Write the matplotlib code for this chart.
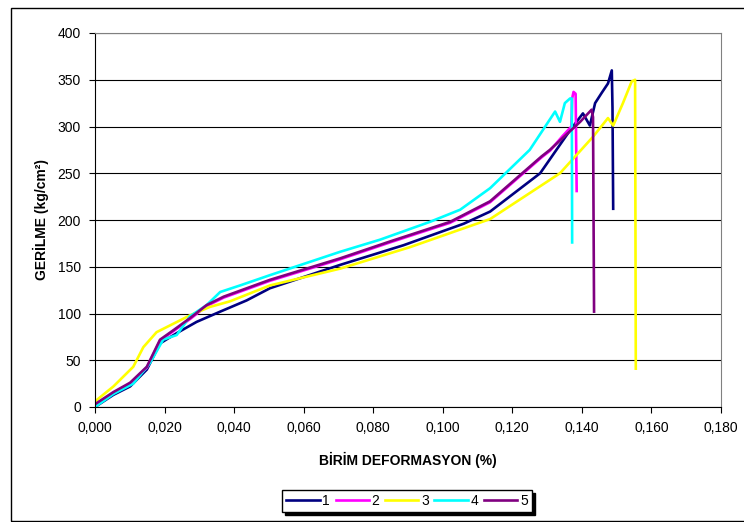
import matplotlib.pyplot as plt
from matplotlib.patches import Rectangle
from matplotlib.ticker import FuncFormatter, MultipleLocator

plt.rcParams['font.family'] = ['Liberation Sans', 'DejaVu Sans']

# strain (%) and stress (kg/cm2), one pair per specimen
x1 = [0, 0.0053, 0.0101, 0.0149, 0.0187, 0.0235, 0.0292, 0.036, 0.0436, 0.0503,
      0.0705, 0.0887, 0.106, 0.1136, 0.128, 0.1366, 0.1403, 0.1423, 0.1438, 0.1457,
      0.1475, 0.1486, 0.1488, 0.149]
y1 = [0, 13, 22, 40, 68, 79, 91, 102, 114, 127,
      152, 173, 196, 209, 250, 296, 314, 301, 325, 336,
      346, 360, 320, 212]

x2 = [0, 0.0053, 0.0101, 0.0149, 0.0187, 0.0225, 0.0273, 0.0321, 0.037, 0.0503,
      0.0705, 0.0848, 0.1021, 0.1136, 0.1284, 0.1308, 0.1345, 0.137, 0.1372, 0.1376,
      0.1382, 0.1385]
y2 = [2, 15, 25, 42, 71, 81, 94, 108, 117, 135,
      158, 176, 197, 219, 267, 274, 290, 300, 330, 337,
      335, 231]

x3 = [0, 0.0053, 0.011, 0.0139, 0.0177, 0.0225, 0.0273, 0.033, 0.0388, 0.0503,
      0.0705, 0.0906, 0.1136, 0.1337, 0.1432, 0.1475, 0.149, 0.1518, 0.1543, 0.1553,
      0.1555]
y3 = [6, 22, 43, 64, 80, 89, 98, 107, 113, 130,
      148, 171, 201, 250, 289, 309, 301, 325, 348, 350,
      41]

x4 = [0, 0.0053, 0.011, 0.0158, 0.0196, 0.0235, 0.0273, 0.0321, 0.036, 0.0417,
      0.0503, 0.0705, 0.082, 0.0963, 0.105, 0.1136, 0.125, 0.1323, 0.1337, 0.1351,
      0.1366, 0.1371, 0.1372]
y4 = [0, 14, 25, 47, 72, 77, 97, 109, 123, 130,
      141, 166, 179, 198, 211, 234, 275, 316, 305, 325,
      330, 330, 176]

x5 = [0, 0.0053, 0.0101, 0.0149, 0.0187, 0.0225, 0.0273, 0.0321, 0.037, 0.0503,
      0.0705, 0.0848, 0.1021, 0.1136, 0.1284, 0.1308, 0.1395, 0.1428, 0.1432, 0.1435]
y5 = [3, 16, 26, 43, 72, 82, 95, 109, 118, 136,
      159, 177, 198, 220, 268, 275, 305, 318, 310, 102]

names = ['1', '2', '3', '4', '5']
colors = ['#000080', '#FF00FF', '#FFFF00', '#00FFFF', '#800080']

fig = plt.figure(figsize=(7.44, 5.22), dpi=100)
ax = fig.add_axes([95/744, 1 - 407/522, 626/744, 374/522])

for xs, ys, n, c in zip([x1, x2, x3, x4, x5], [y1, y2, y3, y4, y5], names, colors):
    ax.plot(xs, ys, color=c, lw=1.9, label=n)

ax.set_xlim(0, 0.18)
ax.set_ylim(0, 400)
ax.xaxis.set_major_locator(MultipleLocator(0.02))
ax.yaxis.set_major_locator(MultipleLocator(50))
ax.xaxis.set_major_formatter(FuncFormatter(lambda v, p: ('%.3f' % v).replace('.', ',')))
ax.grid(axis='y', color='black', lw=0.8)
ax.set_axisbelow(True)
ax.tick_params(labelsize=10, length=4, direction='out', pad=6)

for s in ['top', 'right']:
    ax.spines[s].set_color('#808080')
ax.spines['left'].set_color('black')
ax.spines['bottom'].set_color('black')

ax.set_xlabel('BİRİM DEFORMASYON (%)', fontsize=10, fontweight='bold', labelpad=12)
ax.set_ylabel('GERİLME (kg/cm²)', fontsize=10, fontweight='bold', labelpad=6)

# outer chart frame
fig.patches.append(Rectangle((11/744, 1/522), 1, 513/522, transform=fig.transFigure,
                             fill=False, edgecolor='black', lw=1, clip_on=False))

fig.legend(loc='center', bbox_to_anchor=(407/744, 1 - 501/522), ncol=5, fontsize=10,
           frameon=True, fancybox=False, edgecolor='black', framealpha=1,
           shadow={'color': 'black', 'alpha': 1}, handlelength=2.4, handletextpad=0.2,
           columnspacing=0.4, borderpad=0.3)

fig.savefig('out.png', dpi=100)
